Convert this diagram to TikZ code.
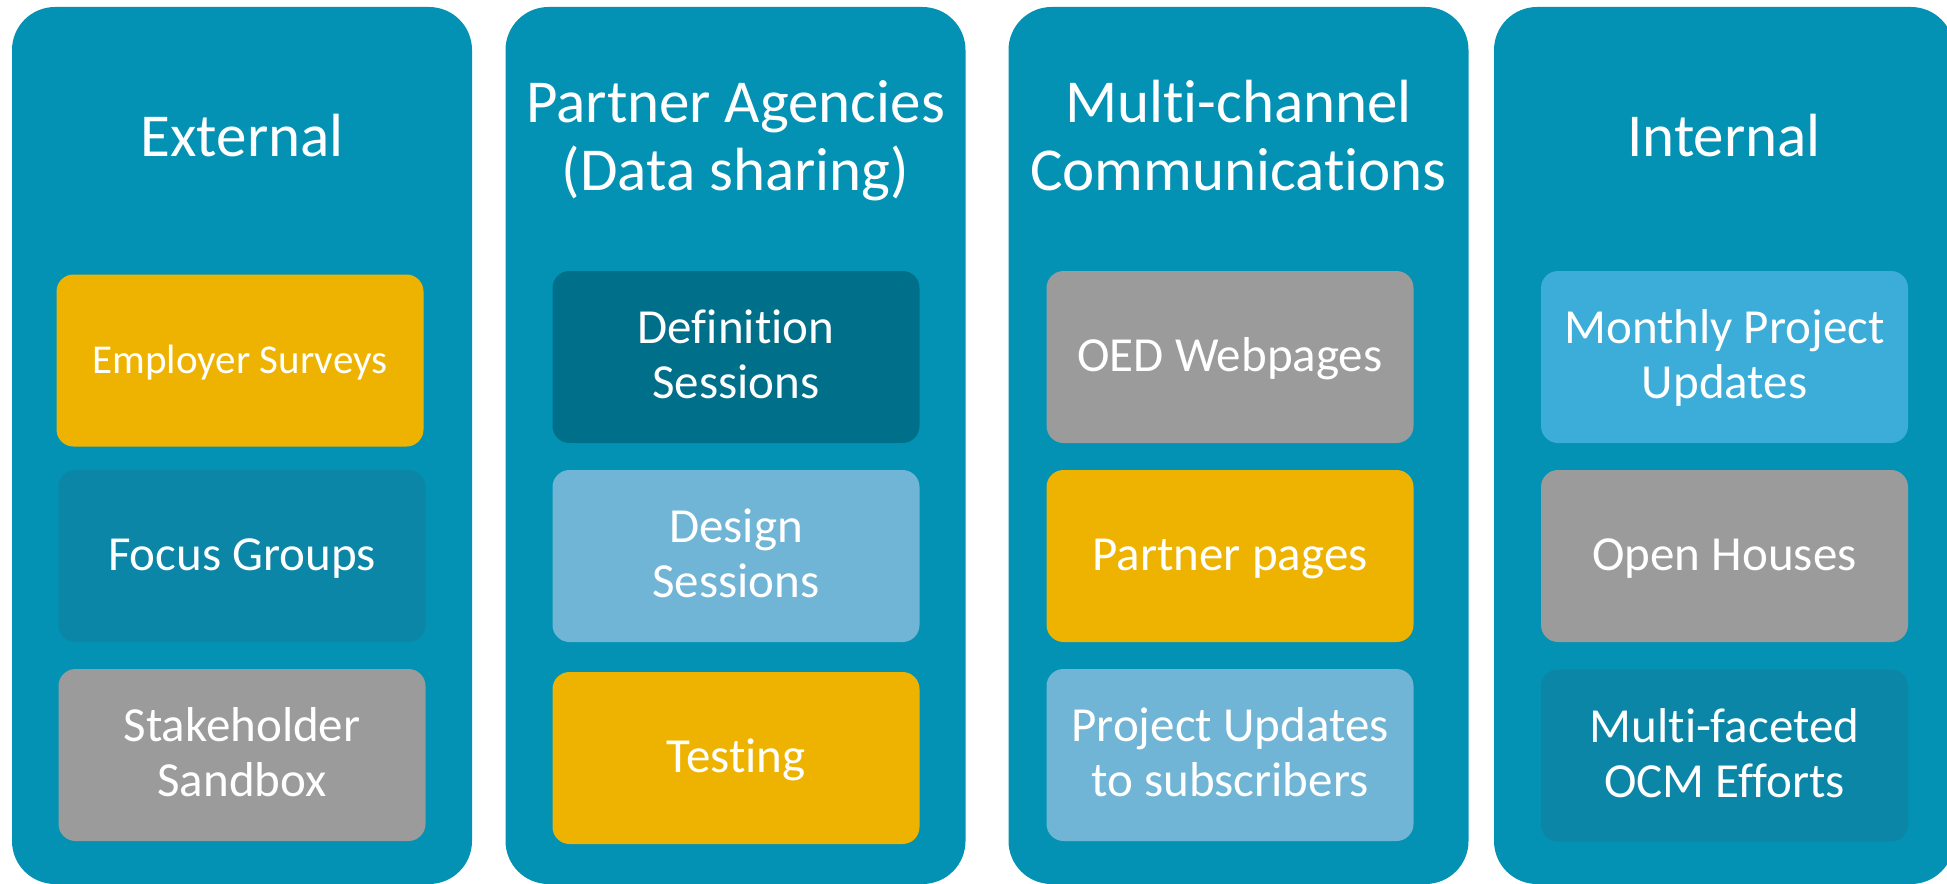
\documentclass[tikz,border=0pt]{standalone}
\usepackage{fontspec}
\setmainfont{Carlito}[Ligatures=NoCommon]
\definecolor{colteal}{HTML}{0392B3}
\definecolor{colyellow}{HTML}{EEB301}
\definecolor{colfocus}{HTML}{0B86A6}
\definecolor{colgray}{HTML}{9B9B9B}
\definecolor{coldef}{HTML}{006F89}
\definecolor{collight}{HTML}{70B5D5}
\definecolor{colmonth}{HTML}{3CACD8}
\begin{document}
\begin{tikzpicture}[x=0.5pt,y=-0.5pt,
  col/.style={fill=colteal, draw=none, rounded corners=21.5pt, minimum width=230pt, minimum height=438.5pt, inner sep=0pt},
  card/.style={draw=none, rounded corners=8.5pt, minimum width=183.5pt, minimum height=86pt, inner sep=0pt},
  ttl/.style={text=white, align=center, font=\fontsize{30.5}{34}\selectfont, anchor=base, inner sep=0pt},
  txt/.style={text=white, align=center, font=\fontsize{24.5}{27.5}\selectfont, anchor=base, inner sep=0pt},
  txtsmall/.style={text=white, align=center, font=\fontsize{20.5}{23}\selectfont, anchor=base, inner sep=0pt},
]
\useasboundingbox (0,0) rectangle (1947,883);
\clip (0,0) rectangle (1947,883);

% columns
\node[col] (c1) at (242,445.5) {};
\node[col] (c2) at (735.5,445.5) {};
\node[col] (c3) at (1238.5,445.5) {};
\node[col] (c4) at (1724,445.5) {};

% titles (base anchor = baseline of last line)
\node[ttl] (t1) at ([yshift=-75pt]c1.north) {External};
\node[ttl] (t2) at ([yshift=-92pt]c2.north) {Partner Agencies\\(Data sharing)};
\node[ttl] (t3) at ([yshift=-92pt]c3.north) {Multi-channel\\Communications};
\node[ttl] (t4) at ([yshift=-75pt]c4.north) {Internal};

% cards
\node[card, fill=colyellow] (b11) at (240,360.5) {};
\node[card, fill=colfocus]  (b12) at (242,556) {};
\node[card, fill=colgray]   (b13) at (242,755) {};
\node[card, fill=coldef]    (b21) at (736,357) {};
\node[card, fill=collight]  (b22) at (736,556) {};
\node[card, fill=colyellow] (b23) at (736,758) {};
\node[card, fill=colgray]   (b31) at (1230,357) {};
\node[card, fill=colyellow] (b32) at (1230,556) {};
\node[card, fill=collight]  (b33) at (1230,755) {};
\node[card, fill=colmonth]  (b41) at (1724.5,357) {};
\node[card, fill=colgray]   (b42) at (1724.5,556) {};
\node[card, fill=colfocus]  (b43) at (1724.5,755.5) {};

% card texts
\node[txtsmall] (x11) at ([yshift=-6.25pt]b11.center) {Employer Surveys};
\node[txt] (x12) at ([yshift=-7pt]b12.center) {Focus Groups};
\node[txt] (x13) at ([yshift=-20.75pt]b13.center) {Stakeholder\\Sandbox};
\node[txt] (x21) at ([yshift=-20.75pt]b21.center) {Definition\\Sessions};
\node[txt] (x22) at ([yshift=-20.75pt]b22.center) {Design\\Sessions};
\node[txt] (x23) at ([yshift=-7pt]b23.center) {Testing};
\node[txt] (x31) at ([yshift=-7pt]b31.center) {OED Webpages};
\node[txt] (x32) at ([yshift=-7pt]b32.center) {Partner pages};
\node[txt] (x33) at ([yshift=-20.75pt]b33.center) {Project Updates\\to subscribers};
\node[txt] (x41) at ([yshift=-20.75pt]b41.center) {Monthly Project\\Updates};
\node[txt] (x42) at ([yshift=-7pt]b42.center) {Open Houses};
\node[txt] (x43) at ([yshift=-20.75pt]b43.center) {Multi-faceted\\OCM Efforts};
\end{tikzpicture}
\end{document}
